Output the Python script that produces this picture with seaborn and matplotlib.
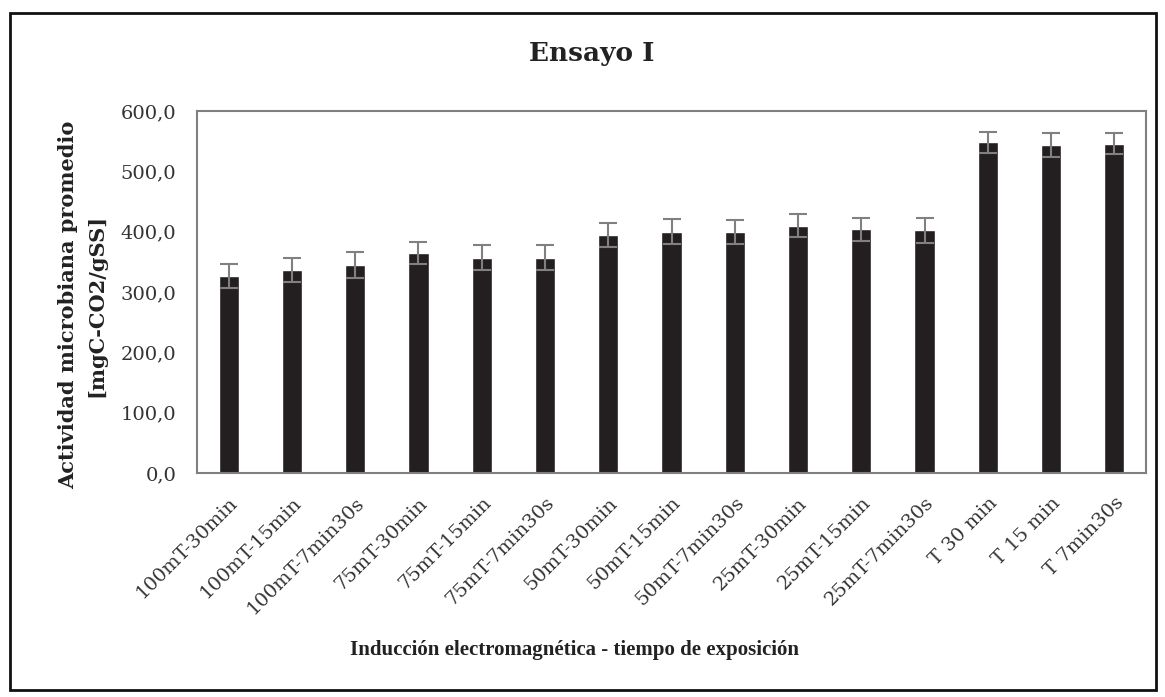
import matplotlib
matplotlib.use("Agg")
import matplotlib.pyplot as plt
import seaborn as sns
import pandas as pd
from matplotlib.patches import Rectangle
from matplotlib.ticker import FuncFormatter

# datos
categorias = ["100mT-30min", "100mT-15min", "100mT-7min30s", "75mT-30min",
              "75mT-15min", "75mT-7min30s", "50mT-30min", "50mT-15min",
              "50mT-7min30s", "25mT-30min", "25mT-15min", "25mT-7min30s",
              "T 30 min", "T 15 min", "T 7min30s"]
actividad = [326, 336, 345, 365, 357, 357, 395, 400, 400, 410, 404, 402, 548, 544, 546]
error = [20, 20, 21, 18, 21, 21, 20, 21, 20, 19, 19, 21, 18, 20, 18]
yticks = [0, 100, 200, 300, 400, 500, 600]

df = pd.DataFrame({"cat": categorias, "val": actividad, "err": error})

sns.set_style("white")
plt.rcParams["font.family"] = ["DejaVu Serif"]

fig = plt.figure(figsize=(11.65, 6.97), dpi=100)
ax = fig.add_axes([197 / 1165, 1 - 473 / 697, (1146 - 197) / 1165, (473 - 111) / 697])

sns.barplot(data=df, x="cat", y="val", color="#231f20", width=0.32,
            errorbar=None, saturation=1, ax=ax)
ax.errorbar(range(len(df)), df["val"], yerr=df["err"], fmt="none",
            ecolor="#808080", elinewidth=1.5, capsize=6.5, capthick=1.5)

ax.set_ylim(0, 600)
ax.set_yticks(yticks)
ax.yaxis.set_major_formatter(FuncFormatter(lambda v, p: f"{v:.1f}".replace(".", ",")))
ax.set_xlim(-0.5, len(df) - 0.5)
ax.set_xlabel("")
ax.set_ylabel("")
ax.tick_params(axis="y", labelsize=14, colors="#333333", length=0, pad=15)
ax.tick_params(axis="x", labelsize=14, colors="#333333", length=0, pad=15)
plt.setp(ax.get_xticklabels(), rotation=45, ha="right", rotation_mode="anchor")
for s in ax.spines.values():
    s.set_color("#808080")
    s.set_linewidth(1.5)

fig.text(592 / 1165, 1 - 53 / 697, "Ensayo I", ha="center", va="center",
         fontsize=19, fontweight="bold", color="#222222")
fig.text(575 / 1165, 1 - 650 / 697, "Inducción electromagnética - tiempo de exposición",
         ha="center", va="center", fontsize=15, fontweight="bold", color="#222222",
         family=["Liberation Serif"])
fig.text(68 / 1165, 1 - 305 / 697, "Actividad microbiana promedio", rotation=90,
         ha="center", va="center", fontsize=15, fontweight="bold", color="#222222")
fig.text(96 / 1165, 1 - 305 / 697, "[mgC-CO2/gSS]", rotation=90,
         ha="center", va="center", fontsize=15, fontweight="bold", color="#222222")

# marco exterior
fig.patches.append(Rectangle((10 / 1165, 7 / 697), 1146 / 1165, 677 / 697,
                             transform=fig.transFigure, fill=False,
                             edgecolor="#111111", linewidth=2))

fig.savefig("out.png", dpi=100)
